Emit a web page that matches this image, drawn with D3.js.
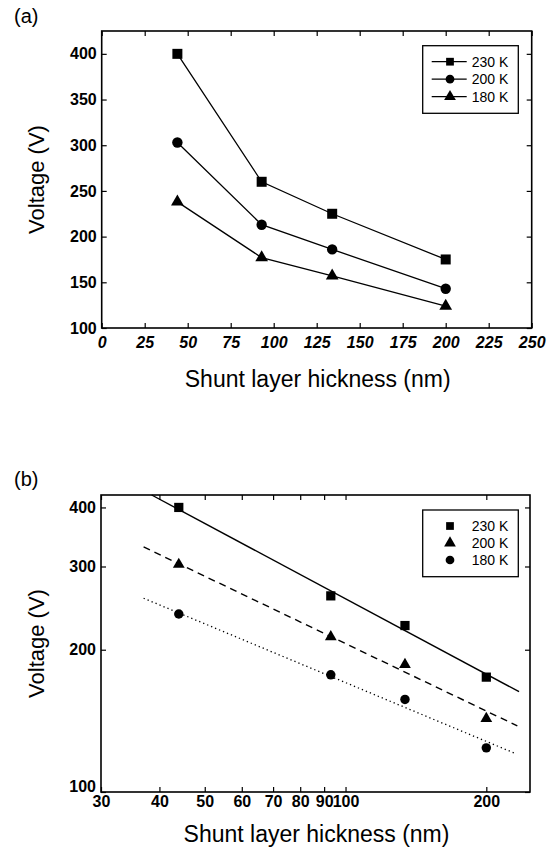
<!DOCTYPE html>
<html lang='en'>
	<head>
		<title>Shunt layer voltage</title>
		<script type='text/javascript' src='https://cdnjs.cloudflare.com/ajax/libs/d3/7.8.5/d3.min.js'></script>
		<style>
			body { margin: 0; background: #fff; }
			text { font-family: 'Liberation Sans', Arial, sans-serif; fill: #000; }
		</style>
	</head>
	<body>
		<script type='text/javascript'>
		// values
		var thickness = [44, 93, 134, 200];
		var v230 = [400, 260, 225, 175];
		var v200 = [303, 213, 186, 143];
		var v180 = [238, 177, 157, 124];

		// fitted lines of panel (b), end points
		var fit230 = [[38.5, 425], [235, 163]];
		var fit200 = [[37, 330], [233, 138]];
		var fit180 = [[37, 257], [229, 121]];

		var ticksAx = [0, 25, 50, 75, 100, 125, 150, 175, 200, 225, 250];
		var ticksAy = [100, 150, 200, 250, 300, 350, 400];
		var ticksBx = [30, 40, 50, 60, 70, 80, 90, 100, 200];
		var ticksBy = [100, 200, 300, 400];

		var legendA = ['230 K', '200 K', '180 K'];
		var legendB = ['230 K', '200 K', '180 K'];

		var width = 554, height = 858;
		var svg = d3.select('body').append('svg').attr('width', width).attr('height', height);

		var xA = d3.scaleLinear().domain([0, 250]).range([101.7, 531.7]);
		var yA = d3.scaleLinear().domain([100, 425]).range([328, 31]);
		var xB = d3.scaleLog().domain([30, 248]).range([101, 530]);
		var yB = d3.scaleLog().domain([100, 425]).range([792, 495]);

		function sym(type, size) { return d3.symbol().type(type).size(size)(); }

		function frame(x, y, ticksX, ticksY, italicX, padX) {
			var x0 = x.range()[0], x1 = x.range()[1], y0 = y.range()[0], y1 = y.range()[1];
			var fmt = d => d;
			var b = svg.append('g').attr('transform', 'translate(0,' + y0 + ')')
				.call(d3.axisBottom(x).tickValues(ticksX).tickFormat(fmt).tickSizeInner(-5).tickSizeOuter(0).tickPadding(padX));
			b.selectAll('text').style('font-style', italicX ? 'italic' : 'normal');
			var l = svg.append('g').attr('transform', 'translate(' + x0 + ',0)')
				.call(d3.axisLeft(y).tickValues(ticksY).tickFormat(fmt).tickSizeInner(-5).tickSizeOuter(0).tickPadding(5));
			svg.append('g').attr('transform', 'translate(0,' + y1 + ')')
				.call(d3.axisTop(x).tickValues(ticksX).tickFormat('').tickSizeInner(-5).tickSizeOuter(0));
			svg.append('g').attr('transform', 'translate(' + x1 + ',0)')
				.call(d3.axisRight(y).tickValues(ticksY).tickFormat('').tickSizeInner(-5).tickSizeOuter(0));
			svg.selectAll('.domain').remove();
			svg.selectAll('.tick line').attr('stroke', '#000').attr('stroke-width', 1.2);
			svg.selectAll('.tick text').attr('font-family', null).style('font-size', '16px').style('font-weight', 'bold');
			svg.append('rect').attr('x', x0).attr('y', y1).attr('width', x1 - x0).attr('height', y0 - y1)
				.attr('fill', 'none').attr('stroke', '#000').attr('stroke-width', 1.6);
			return l;
		}

		// ---------- panel (a)
		frame(xA, yA, ticksAx, ticksAy, true, 9);

		var seriesA = [[v230, d3.symbolSquare, 100], [v200, d3.symbolCircle, 85], [v180, d3.symbolTriangle, 70]];
		var lineA = d3.line().x(d => xA(d[0])).y(d => yA(d[1]));
		seriesA.forEach(function(s) {
			var pts = thickness.map((t, i) => [t, s[0][i]]);
			svg.append('path').attr('d', lineA(pts)).attr('fill', 'none').attr('stroke', '#000').attr('stroke-width', 1.3);
			svg.selectAll(null).data(pts).enter().append('path')
				.attr('d', sym(s[1], s[2]))
				.attr('transform', d => 'translate(' + xA(d[0]) + ',' + yA(d[1]) + ')')
				.attr('fill', '#000');
		});

		// legend (a)
		var lgA = svg.append('g');
		lgA.append('rect').attr('x', 422.7).attr('y', 45.7).attr('width', 95.6).attr('height', 67.6)
			.attr('fill', '#fff').attr('stroke', '#000').attr('stroke-width', 1.3);
		legendA.forEach(function(name, i) {
			var yy = 61.7 + i * 17.5;
			lgA.append('line').attr('x1', 431.7).attr('x2', 466.7).attr('y1', yy).attr('y2', yy).attr('stroke', '#000').attr('stroke-width', 1.3);
			lgA.append('path').attr('d', sym(seriesA[i][1], 60)).attr('transform', 'translate(450,' + yy + ')').attr('fill', '#000');
			lgA.append('text').attr('x', 471.7).attr('y', yy + 5).style('font-size', '14px').text(name);
		});

		svg.append('text').attr('x', 14).attr('y', 23).style('font-size', '20px').text('(a)');
		svg.append('text').attr('x', (xA.range()[0] + xA.range()[1]) / 2 + 1).attr('y', 387)
			.attr('text-anchor', 'middle').style('font-size', '23px').text('Shunt layer hickness (nm)');
		svg.append('text').attr('transform', 'translate(44,' + (yA.range()[0] + yA.range()[1]) / 2 + ') rotate(-90)')
			.attr('text-anchor', 'middle').style('font-size', '22px').text('Voltage (V)');

		// ---------- panel (b)
		var leftB = frame(xB, yB, ticksBx, ticksBy, false, 4);
		// the 100 label sits just above the 30 label
		leftB.selectAll('.tick text').filter(d => d === 100).attr('dy', '-0.05em');

		var lineB = d3.line().x(d => xB(d[0])).y(d => yB(d[1]));
		svg.append('path').attr('d', lineB(fit230)).attr('fill', 'none').attr('stroke', '#000').attr('stroke-width', 1.4);
		svg.append('path').attr('d', lineB(fit200)).attr('fill', 'none').attr('stroke', '#000').attr('stroke-width', 1.4)
			.attr('stroke-dasharray', '7,5');
		svg.append('path').attr('d', lineB(fit180)).attr('fill', 'none').attr('stroke', '#000').attr('stroke-width', 1.3)
			.attr('stroke-dasharray', '1.3,3');

		var seriesB = [[v230, d3.symbolSquare, 85], [v200, d3.symbolTriangle, 60], [v180, d3.symbolCircle, 70]];
		seriesB.forEach(function(s) {
			var pts = thickness.map((t, i) => [t, s[0][i]]);
			svg.selectAll(null).data(pts).enter().append('path')
				.attr('d', sym(s[1], s[2]))
				.attr('transform', d => 'translate(' + xB(d[0]) + ',' + yB(d[1]) + ')')
				.attr('fill', '#000');
		});

		// legend (b)
		var lgB = svg.append('g');
		lgB.append('rect').attr('x', 422.7).attr('y', 510).attr('width', 95.6).attr('height', 66.7)
			.attr('fill', '#fff').attr('stroke', '#000').attr('stroke-width', 1.3);
		legendB.forEach(function(name, i) {
			var yy = 526 + i * 17;
			lgB.append('path').attr('d', sym(seriesB[i][1], 60)).attr('transform', 'translate(450,' + yy + ')').attr('fill', '#000');
			lgB.append('text').attr('x', 471.7).attr('y', yy + 5).style('font-size', '14px').text(name);
		});

		svg.append('text').attr('x', 14).attr('y', 486).style('font-size', '20px').text('(b)');
		svg.append('text').attr('x', (xB.range()[0] + xB.range()[1]) / 2 + 1).attr('y', 842)
			.attr('text-anchor', 'middle').style('font-size', '23px').text('Shunt layer hickness (nm)');
		svg.append('text').attr('transform', 'translate(44,' + (yB.range()[0] + yB.range()[1]) / 2 + ') rotate(-90)')
			.attr('text-anchor', 'middle').style('font-size', '22px').text('Voltage (V)');
		</script>
	</body>
</html>
